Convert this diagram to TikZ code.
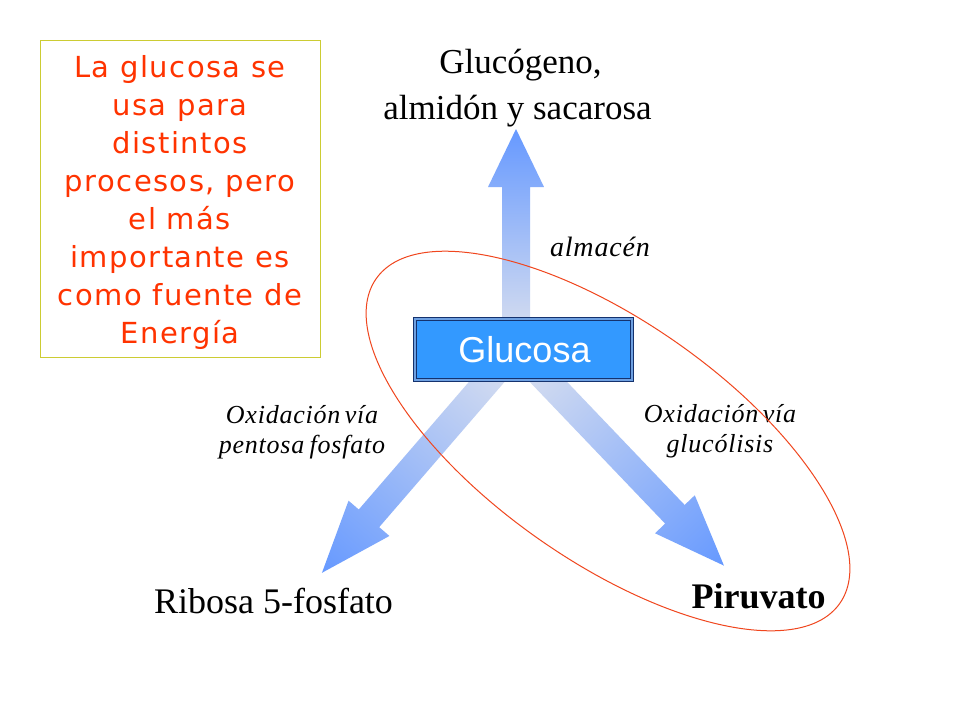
\documentclass[tikz,border=0pt]{standalone}
\usepackage{fontspec}
\setmainfont{Liberation Serif}
\newfontfamily\arialfont{Liberation Sans}
\newfontfamily\verdfont[LetterSpace=5]{DejaVu Sans}
\newfontfamily\lblfont[LetterSpace=3]{Liberation Serif}
\definecolor{arrowbase}{RGB}{223,227,238}
\definecolor{arrowtip}{RGB}{102,153,255}
\definecolor{boxfill}{RGB}{51,153,255}
\definecolor{boxline}{RGB}{20,50,110}
\definecolor{boxgap}{RGB}{110,160,225}
\definecolor{notefr}{RGB}{204,204,51}
\definecolor{notetx}{RGB}{255,51,0}
\definecolor{ringcol}{RGB}{240,70,30}
\newcommand\blockarrow[4]{%
  \shade[flowarrow] (0,-#2) -- ({#1-#4},-#2) -- ({#1-#4},-#3) -- (#1,0) -- ({#1-#4},#3) -- ({#1-#4},#2) -- (0,#2) -- cycle;}
\tikzset{
  flowarrow/.style={left color=arrowbase, right color=arrowtip, draw=none},
  serifbig/.style={inner sep=0pt, anchor=base, font=\fontsize{35}{42}\selectfont},
  itlabel/.style={inner sep=0pt, anchor=base, font=\lblfont\itshape\fontsize{26}{30}\selectfont},
  notetext/.style={inner sep=0pt, anchor=base, text=notetx, font=\verdfont\fontsize{29}{38}\selectfont},
  glubox/.style={draw=boxline, line width=1pt, double=boxgap, double distance=1.2pt, fill=boxfill,
     minimum width=217pt, minimum height=61pt, inner sep=0pt},
}
\begin{document}
\begin{tikzpicture}[x=1pt,y=1pt]
\useasboundingbox (0,0) rectangle (960,-720);
\fill[white] (0,0) rectangle (960,-720);
% note box
\draw[notefr, line width=1pt] (40,-40) rectangle (320,-357);
\node[notetext] (n1) at (180,-77) {La glucosa se};
\node[notetext] (n2) at (180,-115) {usa para};
\node[notetext] (n3) at (180,-153) {distintos};
\node[notetext] (n4) at (180,-191) {procesos, pero};
\node[notetext] (n5) at (180,-229) {el más};
\node[notetext] (n6) at (180,-267) {importante es};
\node[notetext] (n7) at (180,-305) {como fuente de};
\node[notetext] (n8) at (180,-343) {Energía};
% arrows
\begin{scope}[transform canvas={shift={(516pt,-348pt)},rotate=90}]
  \blockarrow{219}{14}{28}{58}
\end{scope}
\begin{scope}[transform canvas={shift={(516pt,-348pt)},rotate=229.2}]
  \blockarrow{297}{13.5}{27}{72}
\end{scope}
\begin{scope}[transform canvas={shift={(516pt,-348pt)},rotate=-46.3}]
  \blockarrow{301}{13.5}{27.5}{71}
\end{scope}
% glucose box
\node[glubox] (glu) at (523.5,-349.5) {};
\node[inner sep=0pt, anchor=base, text=white, font=\arialfont\fontsize{36}{40}\selectfont] (glut) at (524.5,-362) {Glucosa};
% labels
\node[serifbig] (g1) at (520.5,-73) {Glucógeno,};
\node[serifbig] (g2) at (517.5,-119) {almidón y sacarosa};
\node[itlabel, font=\lblfont\itshape\fontsize{28}{32}\selectfont] (alm) at (600,-256) {almacén};
\node[itlabel] (l1) at (302,-423) {Oxidación\hspace{-3pt} vía};
\node[itlabel] (l2) at (302,-453) {pentosa\hspace{-2pt} fosfato};
\node[itlabel] (r1) at (720,-422) {Oxidación\hspace{-3pt} vía};
\node[itlabel] (r2) at (720,-452) {glucólisis};
\node[inner sep=0pt, anchor=base, font=\fontsize{36}{42}\selectfont] (rib) at (273.5,-613) {Ribosa 5-fosfato};
\node[inner sep=0pt, anchor=base, font=\bfseries\fontsize{36}{42}\selectfont] (pir) at (758.5,-608) {Piruvato};
% ring
\draw[ringcol, line width=1pt, rotate around={-35:(608,-441)}] (608,-441) ellipse [x radius=283, y radius=120];
\end{tikzpicture}
\end{document}
